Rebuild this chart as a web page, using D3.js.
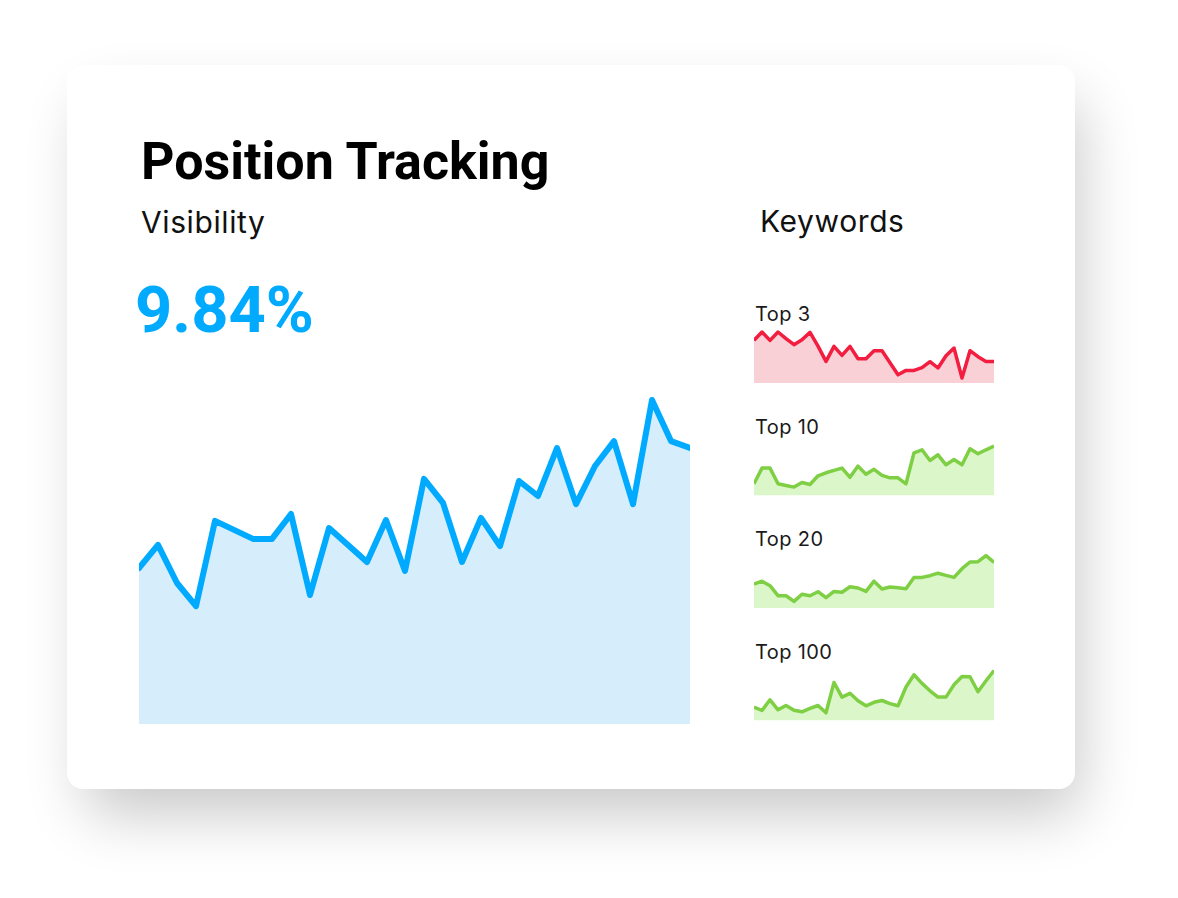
<!DOCTYPE html>
<html>
<head>
<meta charset="utf-8">
<script src="https://cdn.jsdelivr.net/npm/d3@7"></script>
<style>
  html, body { margin: 0; padding: 0; background: #fff; }
  svg { display: block; font-family: Roboto, "Noto Sans", sans-serif; }
  .light { font-family: Inter, Roboto, sans-serif; letter-spacing: 0.02em; }
</style>
</head>
<body>
<div id="chart"></div>
<script>
// Visibility, daily values (%)
const visibility = [5.20, 5.97, 4.70, 3.93, 6.77, 6.47, 6.17, 6.17, 7.00, 4.30,
  6.53, 5.97, 5.40, 6.80, 5.10, 8.17, 7.37, 5.40, 6.87, 5.93,
  8.10, 7.60, 9.20, 7.33, 8.60, 9.43, 7.33, 10.80, 9.43, 9.20];
const visibilityLabel = '9.84%';

// Keyword sparklines
const keywordLabels = ['Top 3', 'Top 10', 'Top 20', 'Top 100'];
const top3 = [42.6, 51.0, 42.6, 51.0, 44.3, 38.3, 43.3, 50.6, 36.9, 21.6, 36.6, 27.6, 36.6, 24.3, 24.3, 32.3,
  32.3, 20.3, 8.3, 12.6, 12.6, 15.3, 21.3, 15.0, 27.3, 35.0, 5.0, 32.3, 26.3, 21.6, 21.6];
const top10 = [11.7, 27.4, 27.4, 11.7, 10.0, 8.4, 13.0, 11.0, 19.7, 22.7, 25.1, 27.4, 18.2, 29.4, 21.2, 26.2,
  20.2, 17.7, 17.7, 11.7, 42.7, 45.7, 35.0, 40.7, 30.7, 36.0, 30.7, 46.7, 41.7, 45.7, 49.4];
const top20 = [24.0, 26.8, 22.3, 12.3, 12.3, 6.6, 13.8, 12.3, 16.3, 10.3, 16.6, 15.8, 21.3, 20.0, 16.6, 26.8,
  19.0, 21.0, 20.3, 19.3, 30.6, 30.6, 32.3, 34.8, 32.6, 30.6, 39.3, 46.0, 46.3, 52.3, 45.6];
const top100 = [13.4, 10.0, 20.7, 10.7, 15.0, 10.2, 8.7, 12.1, 15.0, 7.7, 38.0, 23.4, 27.2, 19.7, 14.7, 18.2,
  20.0, 16.9, 14.7, 33.5, 45.7, 37.1, 29.7, 23.4, 23.4, 35.7, 44.0, 43.7, 28.7, 39.7, 50.0];
const keywordSeries = [top3, top10, top20, top100];
const keywordColors = [
  { line: '#f21d3f', fill: '#f8d0d6' },
  { line: '#7ecf44', fill: '#dbf7ca' },
  { line: '#7ecf44', fill: '#dbf7ca' },
  { line: '#7ecf44', fill: '#dbf7ca' }
];

const width = 1178;
const height = 898;

const svg = d3.select('#chart')
  .append('svg')
  .attr('width', width)
  .attr('height', height);

const defs = svg.append('defs');

// soft shadow under the card
defs.append('filter')
  .attr('id', 'shadow')
  .attr('x', '-20%').attr('y', '-20%')
  .attr('width', '140%').attr('height', '140%')
  .append('feGaussianBlur')
  .attr('stdDeviation', 30);

svg.append('rect')
  .attr('x', 85).attr('y', 100)
  .attr('width', 995).attr('height', 715)
  .attr('rx', 20)
  .style('fill', '#000')
  .style('opacity', 0.21)
  .attr('filter', 'url(#shadow)');

svg.append('rect')
  .attr('x', 67).attr('y', 65)
  .attr('width', 1008).attr('height', 724)
  .attr('rx', 16)
  .style('fill', '#fff');

// headings
svg.append('text')
  .attr('x', 141).attr('y', 179)
  .style('font-size', '52px').style('font-weight', 700)
  .style('fill', '#000')
  .text('Position Tracking');

svg.append('text')
  .attr('class', 'light')
  .attr('x', 141).attr('y', 233)
  .style('font-size', '30px').style('font-weight', 400)
  .style('fill', '#111')
  .text('Visibility');

svg.append('text')
  .attr('x', 135).attr('y', 332)
  .style('font-size', '65px').style('font-weight', 700)
  .style('fill', '#00aaff')
  .text(visibilityLabel);

svg.append('text')
  .attr('class', 'light')
  .attr('x', 760).attr('y', 232)
  .style('font-size', '30px').style('font-weight', 400)
  .style('fill', '#111')
  .text('Keywords');

// main visibility chart
const x = d3.scaleLinear()
  .domain([0, visibility.length - 1])
  .range([139, 690]);

const y = d3.scaleLinear()
  .domain([0, 11])
  .range([724, 394]);

defs.append('clipPath')
  .attr('id', 'clip-main')
  .append('rect')
  .attr('x', x.range()[0]).attr('y', 300)
  .attr('width', x.range()[1] - x.range()[0]).attr('height', y(0) - 300);

const main = svg.append('g').attr('clip-path', 'url(#clip-main)');

main.append('path')
  .datum(visibility)
  .attr('d', d3.area()
    .x((d, i) => x(i))
    .y0(y(0))
    .y1(d => y(d)))
  .style('fill', '#d6edfb');

main.append('path')
  .datum(visibility)
  .attr('d', d3.line()
    .x((d, i) => x(i))
    .y(d => y(d)))
  .style('fill', 'none')
  .style('stroke', '#00aaff')
  .style('stroke-width', 6)
  .style('stroke-linejoin', 'round')
  .style('stroke-linecap', 'round');

// keyword sparklines
const sx = d3.scaleLinear()
  .domain([0, top3.length - 1])
  .range([754, 994]);

keywordSeries.forEach((series, i) => {
  const base = 383 + i * 112.5;
  const sy = d3.scaleLinear()
    .domain([0, 60])
    .range([base, base - 60]);

  svg.append('text')
    .attr('class', 'light')
    .attr('x', 755).attr('y', 321 + i * 112.5)
    .style('font-size', '20px')
    .style('fill', '#1a1a1a')
    .text(keywordLabels[i]);

  defs.append('clipPath')
    .attr('id', 'clip-k' + i)
    .append('rect')
    .attr('x', 754).attr('y', base - 80)
    .attr('width', 240).attr('height', 80);

  const g = svg.append('g').attr('clip-path', 'url(#clip-k' + i + ')');

  g.append('path')
    .datum(series)
    .attr('d', d3.area()
      .x((d, j) => sx(j))
      .y0(sy(0))
      .y1(d => sy(d)))
    .style('fill', keywordColors[i].fill);

  g.append('path')
    .datum(series)
    .attr('d', d3.line()
      .x((d, j) => sx(j))
      .y(d => sy(d)))
    .style('fill', 'none')
    .style('stroke', keywordColors[i].line)
    .style('stroke-width', 3.5)
    .style('stroke-linejoin', 'round');
});
</script>
</body>
</html>
